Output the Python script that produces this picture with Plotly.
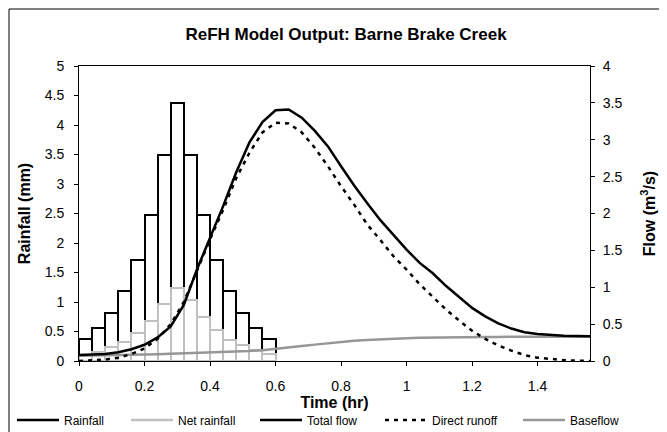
import plotly.graph_objects as go

# ---- data ----
rain_start = [0.00, 0.04, 0.08, 0.12, 0.16, 0.20, 0.24, 0.28, 0.32, 0.36, 0.40, 0.44, 0.48, 0.52, 0.56]
rainfall = [0.38, 0.56, 0.81, 1.19, 1.71, 2.47, 3.50, 4.37, 3.50, 2.47, 1.71, 1.19, 0.81, 0.56, 0.38]
net_rainfall = [0.10, 0.16, 0.23, 0.33, 0.47, 0.67, 0.97, 1.24, 1.03, 0.75, 0.53, 0.36, 0.27, 0.18, 0.12]

time_hr = [0.00, 0.04, 0.08, 0.12, 0.16, 0.20, 0.24, 0.28, 0.32, 0.36,
           0.40, 0.44, 0.48, 0.52, 0.56, 0.60, 0.64, 0.68, 0.72, 0.76,
           0.80, 0.84, 0.88, 0.92, 0.96, 1.00, 1.04, 1.08, 1.12, 1.16,
           1.20, 1.24, 1.28, 1.32, 1.36, 1.40, 1.44, 1.48, 1.52, 1.56]
total_flow = [0.08, 0.085, 0.095, 0.12, 0.16, 0.22, 0.32, 0.47, 0.76, 1.24,
              1.67, 2.10, 2.56, 2.96, 3.24, 3.40, 3.41, 3.30, 3.12, 2.91,
              2.64, 2.38, 2.14, 1.91, 1.71, 1.51, 1.33, 1.19, 1.02, 0.87,
              0.72, 0.605, 0.51, 0.44, 0.39, 0.365, 0.35, 0.342, 0.338, 0.335]
direct_runoff = [0.0, 0.005, 0.02, 0.045, 0.095, 0.17, 0.30, 0.50, 0.80, 1.22,
                 1.65, 2.05, 2.48, 2.82, 3.10, 3.23, 3.22, 3.10, 2.89, 2.64,
                 2.37, 2.12, 1.85, 1.64, 1.42, 1.24, 1.04, 0.87, 0.70, 0.55,
                 0.41, 0.30, 0.21, 0.14, 0.08, 0.045, 0.025, 0.012, 0.005, 0.0]
baseflow = [0.07, 0.072, 0.075, 0.078, 0.082, 0.087, 0.092, 0.097, 0.102, 0.108,
            0.114, 0.12, 0.127, 0.135, 0.147, 0.163, 0.182, 0.202, 0.222, 0.241,
            0.258, 0.273, 0.285, 0.295, 0.303, 0.309, 0.314, 0.318, 0.321, 0.323,
            0.325, 0.326, 0.327, 0.328, 0.329, 0.33, 0.33, 0.33, 0.33, 0.33]

legend_names = ["Rainfall", "Net rainfall", "Total flow", "Direct runoff", "Baseflow"]

FONT = "Liberation Sans, Arial, sans-serif"
BLACK = "#000000"
LIGHT = "#c0c0c0"
MID = "#969696"
DASH = "4px,5px"

W, H = 667, 432
ML, MR, MT, MB = 71, 85, 58, 79
PW, PH = W - ML - MR, H - MT - MB

fig = go.Figure()

fig.add_trace(go.Bar(x=rain_start, y=rainfall, width=0.04, offset=0,
                     marker=dict(color="rgba(0,0,0,0)", line=dict(color=BLACK, width=2)),
                     showlegend=False, name="Rainfall"))
fig.add_trace(go.Bar(x=rain_start, y=net_rainfall, width=0.04, offset=0,
                     marker=dict(color="rgba(0,0,0,0)", line=dict(color=LIGHT, width=2)),
                     showlegend=False, name="Net rainfall"))

fig.add_trace(go.Scatter(x=time_hr, y=baseflow, mode="lines", yaxis="y2",
                         line=dict(color=MID, width=2.5), showlegend=False, name="Baseflow"))
fig.add_trace(go.Scatter(x=time_hr, y=direct_runoff, mode="lines", yaxis="y2",
                         line=dict(color=BLACK, width=2.5, dash=DASH), showlegend=False,
                         name="Direct runoff"))
fig.add_trace(go.Scatter(x=time_hr, y=total_flow, mode="lines", yaxis="y2",
                         line=dict(color=BLACK, width=2.5), showlegend=False, name="Total flow"))

# legend entries (Excel style: every series shown as a line), one small legend each
legend_styles = [(BLACK, "solid"), (LIGHT, "solid"), (BLACK, "solid"), (BLACK, DASH), (MID, "solid")]
legend_left_px = [4, 118, 247, 372, 510]
legend_cfg = {}
for i, (name, (col, dash), lx) in enumerate(zip(legend_names, legend_styles, legend_left_px)):
    key = "legend" if i == 0 else f"legend{i + 1}"
    fig.add_trace(go.Scatter(x=[None], y=[None], mode="lines", name=name, legend=key,
                             line=dict(color=col, width=2.5, dash=dash)))
    legend_cfg[key] = dict(orientation="h", x=(lx - ML) / PW, xanchor="left",
                           y=(MT + PH - 412) / PH, yanchor="middle",
                           font=dict(family=FONT, size=12, color=BLACK),
                           bgcolor="rgba(0,0,0,0)", itemwidth=42)

axis_common = dict(showgrid=False, zeroline=False, showline=True, linecolor=BLACK, linewidth=1,
                   ticks="outside", ticklen=4, tickcolor=BLACK, automargin=False,
                   tickfont=dict(family=FONT, size=14, color=BLACK))
TFONT = dict(family=FONT, size=16, color=BLACK)

fig.update_layout(
    width=W, height=H, autosize=False,
    margin=dict(l=ML, r=MR, t=MT, b=MB, autoexpand=False),
    paper_bgcolor="white", plot_bgcolor="white",
    barmode="overlay", bargap=0,
    font=dict(family=FONT, color=BLACK),
    title=dict(text="<b>ReFH Model Output: Barne Brake Creek</b>", x=338 / W, xanchor="center",
               y=1 - 26 / H, yanchor="middle", font=dict(family=FONT, size=17, color=BLACK)),
    xaxis=dict(range=[0, 1.56], dtick=0.2, tick0=0, mirror=True, ticklabelstandoff=8,
               title=dict(text="<b>Time (hr)</b>", font=TFONT, standoff=4),
               **axis_common),
    yaxis=dict(range=[0, 5], dtick=0.5, tick0=0, ticklabelstandoff=7,
               title=dict(text="<b>Rainfall (mm)</b>", font=TFONT, standoff=10),
               **axis_common),
    yaxis2=dict(range=[0, 4], dtick=0.5, tick0=0, overlaying="y", side="right", ticklabelstandoff=5,
                title=dict(text="<b>Flow (m<sup>3</sup>/s)</b>", font=TFONT, standoff=22),
                **axis_common),
    shapes=[dict(type="rect", xref="paper", yref="paper",
                 x0=(1 - ML) / PW, x1=(664 - ML) / PW,
                 y0=(MT + PH - 430) / PH, y1=(MT + PH - 1) / PH,
                 line=dict(color=BLACK, width=1), layer="below")],
    **legend_cfg,
)

fig.write_html("out.html")
